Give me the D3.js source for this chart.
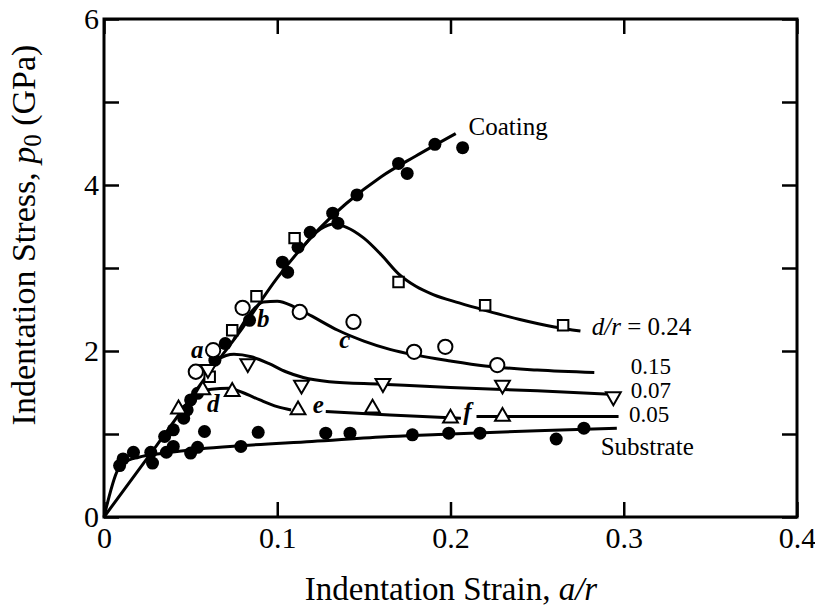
<!DOCTYPE html>
<html>
<head>
<meta charset="utf-8">
<script src="https://cdn.jsdelivr.net/npm/d3@7/dist/d3.min.js"></script>
<style>
	body { margin: 0; background: #fff; }
	svg text { font-family: "Liberation Serif", "Times New Roman", serif !important; fill: #000; }
</style>
</head>
<body>
<svg id="chart" width="815" height="607"></svg>
<script>
// fitted curves, [a/r, p0]
var coatingLine = [[0, 0], [0.03, 0.85], [0.06, 1.72], [0.08, 2.28], [0.1, 2.88], [0.12, 3.38],
	[0.14, 3.78], [0.16, 4.1], [0.18, 4.35], [0.203, 4.62]];
var substrateLine = [[0, 0], [0.008, 0.57], [0.012, 0.66], [0.02, 0.72], [0.035, 0.77], [0.055, 0.82],
	[0.08, 0.86], [0.12, 0.91], [0.165, 0.97], [0.2, 1.0], [0.25, 1.04], [0.296, 1.07]];
var line24 = [[0.115, 3.26], [0.125, 3.47], [0.133, 3.53], [0.14, 3.49], [0.15, 3.36], [0.16, 3.16],
	[0.17, 2.93], [0.18, 2.78], [0.19, 2.68], [0.205, 2.58], [0.22, 2.49], [0.24, 2.38], [0.26, 2.29], [0.275, 2.24]];
var line15 = [[0.075, 2.14], [0.085, 2.47], [0.092, 2.59], [0.1, 2.6], [0.11, 2.53], [0.12, 2.42],
	[0.135, 2.25], [0.15, 2.12], [0.165, 2.02], [0.18, 1.95], [0.2, 1.88], [0.22, 1.82], [0.25, 1.77], [0.283, 1.74]];
var line07 = [[0.06, 1.72], [0.066, 1.9], [0.075, 1.96], [0.085, 1.93], [0.095, 1.85], [0.105, 1.75],
	[0.115, 1.68], [0.13, 1.63], [0.16, 1.6], [0.2, 1.56], [0.25, 1.52], [0.292, 1.48]];
var line05 = [[0.048, 1.37], [0.055, 1.51], [0.062, 1.54], [0.072, 1.55], [0.08, 1.5], [0.09, 1.41],
	[0.1, 1.33], [0.108, 1.29], null, [0.128, 1.27], [0.165, 1.23], [0.206, 1.19], null, [0.215, 1.21], [0.297, 1.21]];

// measured points
var coatingPts = [[0.035, 0.97], [0.04, 1.05], [0.046, 1.19], [0.048, 1.29], [0.05, 1.41], [0.054, 1.49],
	[0.064, 1.89], [0.07, 2.09], [0.084, 2.37], [0.103, 3.07], [0.106, 2.95], [0.112, 3.25], [0.119, 3.43],
	[0.132, 3.66], [0.135, 3.54], [0.146, 3.88], [0.17, 4.26], [0.175, 4.14], [0.191, 4.49], [0.207, 4.45]];
var substratePts = [[0.009, 0.62], [0.011, 0.7], [0.017, 0.78], [0.027, 0.78], [0.028, 0.65], [0.036, 0.78],
	[0.04, 0.85], [0.05, 0.77], [0.054, 0.84], [0.058, 1.03], [0.079, 0.85], [0.089, 1.02], [0.128, 1.01],
	[0.142, 1.01], [0.178, 0.99], [0.199, 1.01], [0.217, 1.01], [0.261, 0.94], [0.277, 1.07]];
var pts24 = [[0.061, 1.69], [0.074, 2.25], [0.088, 2.66], [0.11, 3.36], [0.17, 2.83], [0.22, 2.55], [0.265, 2.31]];
var pts15 = [[0.053, 1.75], [0.063, 2.01], [0.08, 2.52], [0.113, 2.47], [0.144, 2.35], [0.179, 1.99], [0.197, 2.05], [0.227, 1.83]];
var pts07 = [[0.06, 1.78], [0.083, 1.85], [0.114, 1.59], [0.161, 1.61], [0.23, 1.59], [0.294, 1.45]];
var pts05 = [[0.043, 1.3], [0.057, 1.53], [0.074, 1.51], [0.112, 1.29], [0.155, 1.31], [0.2, 1.19], [0.23, 1.21]];

var xTicks = [0, 0.1, 0.2, 0.3, 0.4];
var xTickLabels = ["0", "0.1", "0.2", "0.3", "0.4"];
var yTicks = [0, 1, 2, 3, 4, 5, 6];
var yTickLabels = ["0", "", "2", "", "4", "", "6"];

// curve labels: [text, a/r, p0, size]
var curveLabels = [["Coating", 0.2104, 4.6, 25], ["0.15", 0.304, 1.725, 23], ["0.07", 0.304, 1.43, 23],
	["0.05", 0.303, 1.145, 23], ["Substrate", 0.2867, 0.747, 25]];
var pointLetters = [["a", 0.0538, 1.916], ["b", 0.0919, 2.289], ["c", 0.139, 2.036],
	["d", 0.063, 1.265], ["e", 0.1237, 1.253], ["f", 0.2098, 1.169]];

var svg = d3.select("#chart");
var x = d3.scaleLinear().domain([0, 0.4]).range([104, 797]);
var y = d3.scaleLinear().domain([0, 6]).range([517, 19]);

var line = d3.line()
	.defined(function(d) { return d != null; })
	.x(function(d) { return x(d[0]); })
	.y(function(d) { return y(d[1]); })
	.curve(d3.curveMonotoneX);

// axes: ticks point inwards on all four sides
function styleAxis(g) {
	g.attr("font-family", null);
	g.select(".domain").remove();
	g.selectAll(".tick line").attr("stroke", "#000").attr("stroke-width", 2.5);
	g.selectAll(".tick text").attr("font-size", "30px");
}
svg.append("g").attr("transform", "translate(0,517)")
	.call(d3.axisBottom(x).tickValues(xTicks).tickSizeInner(-15).tickSizeOuter(0).tickPadding(10)
		.tickFormat(function(d, i) { return xTickLabels[i]; }))
	.call(styleAxis);
svg.append("g").attr("transform", "translate(0,19)")
	.call(d3.axisTop(x).tickValues(xTicks).tickSizeInner(-15).tickSizeOuter(0).tickFormat(""))
	.call(styleAxis);
svg.append("g").attr("transform", "translate(104,0)")
	.call(d3.axisLeft(y).tickValues(yTicks).tickSizeInner(-15).tickSizeOuter(0).tickPadding(5)
		.tickFormat(function(d, i) { return yTickLabels[i]; }))
	.call(styleAxis);
svg.append("g").attr("transform", "translate(797,0)")
	.call(d3.axisRight(y).tickValues(yTicks).tickSizeInner(-15).tickSizeOuter(0).tickFormat(""))
	.call(styleAxis);

svg.append("rect")
	.attr("x", x(0)).attr("y", y(6))
	.attr("width", x(0.4) - x(0)).attr("height", y(0) - y(6))
	.attr("fill", "none").attr("stroke", "#000").attr("stroke-width", 3);

// curves
var curves = svg.append("g").attr("fill", "none").attr("stroke", "#000").attr("stroke-width", 3);
[coatingLine, substrateLine, line24, line15, line07, line05].forEach(function(c) {
	curves.append("path").attr("d", line(c));
});

// markers
var marks = svg.append("g");
marks.selectAll(".fc").data(coatingPts.concat(substratePts)).enter().append("circle")
	.attr("cx", function(d) { return x(d[0]); })
	.attr("cy", function(d) { return y(d[1]); })
	.attr("r", 6.5).attr("fill", "#000");
function openMarks(data, type, size) {
	marks.selectAll(null).data(data).enter().append("path")
		.attr("transform", function(d) { return "translate(" + x(d[0]) + "," + y(d[1]) + ")" + (type == "down" ? " rotate(180)" : ""); })
		.attr("d", d3.symbol().type(type == "circle" ? d3.symbolCircle : type == "square" ? d3.symbolSquare : d3.symbolTriangle).size(size))
		.attr("fill", "#fff").attr("stroke", "#000").attr("stroke-width", 2);
}
openMarks(pts24, "square", 110);
openMarks(pts15, "circle", 160);
openMarks(pts07, "down", 95);
openMarks(pts05, "up", 95);

// labels
svg.selectAll(".clab").data(curveLabels).enter().append("text")
	.attr("x", function(d) { return x(d[1]); })
	.attr("y", function(d) { return y(d[2]); })
	.attr("font-size", function(d) { return d[3] + "px"; })
	.text(function(d) { return d[0]; });
var dr = svg.append("text").attr("x", x(0.2815)).attr("y", y(2.19)).attr("font-size", "25px");
dr.append("tspan").attr("font-style", "italic").text("d/r");
dr.append("tspan").text(" = 0.24");

svg.selectAll(".plab").data(pointLetters).enter().append("text")
	.attr("x", function(d) { return x(d[1]); })
	.attr("y", function(d) { return y(d[2]); })
	.attr("text-anchor", "middle")
	.attr("font-size", "25px").attr("font-weight", "bold").attr("font-style", "italic")
	.text(function(d) { return d[0]; });

// axis titles
var xt = svg.append("text").attr("x", 451).attr("y", 600).attr("text-anchor", "middle").attr("font-size", "33px");
xt.append("tspan").text("Indentation Strain, ");
xt.append("tspan").attr("font-style", "italic").text("a/r");

var yt = svg.append("text").attr("transform", "translate(35,235) rotate(-90)")
	.attr("text-anchor", "middle").attr("font-size", "34px");
yt.append("tspan").text("Indentation Stress, ");
yt.append("tspan").attr("font-style", "italic").text("p");
yt.append("tspan").attr("font-size", "25px").attr("dy", 6).text("0");
yt.append("tspan").attr("dy", -6).text(" (GPa)");
</script>
</body>
</html>
